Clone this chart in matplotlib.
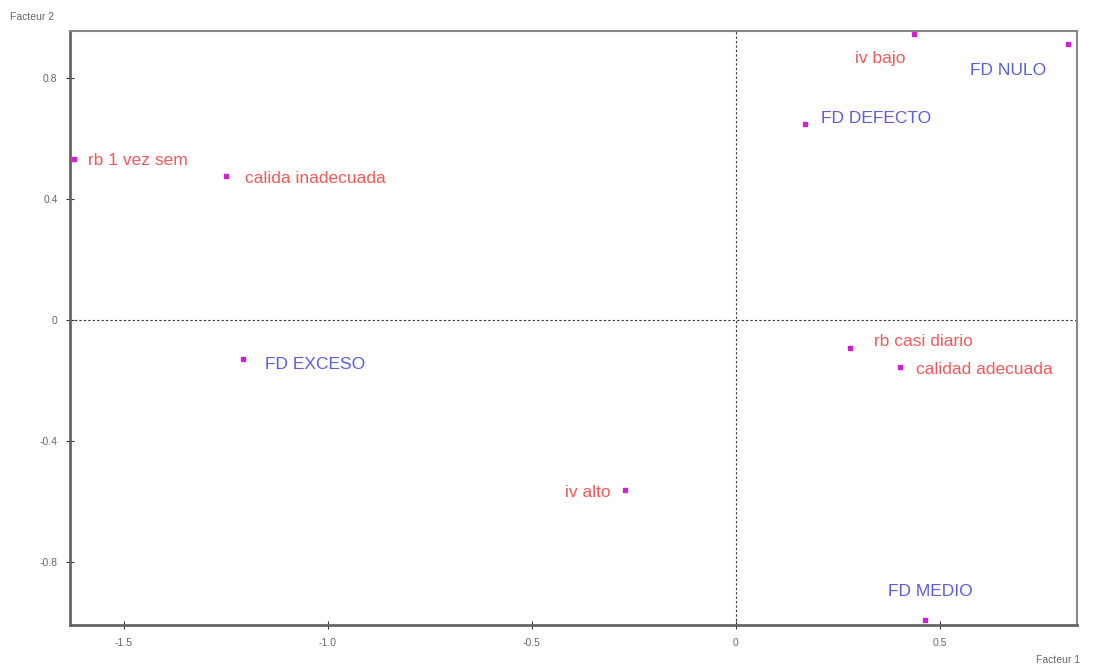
import matplotlib
matplotlib.use("Agg")
import matplotlib.pyplot as plt

plt.rcParams['font.family'] = ['Liberation Sans', 'DejaVu Sans']

# Factor coordinates of the modalities
labels = ["rb 1 vez sem", "calida inadecuada", "iv bajo", "FD NULO", "FD DEFECTO",
          "FD EXCESO", "rb casi diario", "calidad adecuada", "iv alto", "FD MEDIO"]
factor1 = [-1.623, -1.250, 0.436, 0.814, 0.169, -1.208, 0.279, 0.402, -0.272, 0.463]
factor2 = [0.532, 0.476, 0.945, 0.912, 0.648, -0.129, -0.093, -0.155, -0.562, -0.992]
groups = ["var", "var", "var", "fd", "fd", "fd", "var", "var", "var", "fd"]

x_ticks = [-1.5, -1.0, -0.5, 0, 0.5]
x_tick_labels = ["-1.5", "-1.0", "-0.5", "0", "0.5"]
y_ticks = [-0.8, -0.4, 0, 0.4, 0.8]
y_tick_labels = ["-0.8", "-0.4", "0", "0.4", "0.8"]

# label placement: offset in pixels and alignment
placement = {
    "rb 1 vez sem": (14, -2, "left", "center"),
    "calida inadecuada": (19, -3, "left", "center"),
    "iv bajo": (-8, -24, "right", "center"),
    "FD NULO": (-22, -26, "right", "center"),
    "FD DEFECTO": (16, 5, "left", "center"),
    "FD EXCESO": (22, -5, "left", "center"),
    "rb casi diario": (24, 7, "left", "center"),
    "calidad adecuada": (16, -3, "left", "center"),
    "iv alto": (-14, -2, "right", "center"),
    "FD MEDIO": (6, 29, "center", "center"),
}
colors = {"var": "#f05a5a", "fd": "#5c5ce0"}

fig = plt.figure(figsize=(11.04, 6.68), dpi=100)
ax = fig.add_axes([70 / 1104, 1 - 625 / 668, (1077 - 70) / 1104, (625 - 31) / 668])
ax.set_xlim(-1.632, 0.836)
ax.set_ylim(-1.008, 0.955)

ax.axhline(0, color="#333333", lw=0.8, ls=(0, (2, 2)), zorder=1)
ax.axvline(0, color="#333333", lw=0.8, ls=(0, (2, 2)), zorder=1)

ax.scatter(factor1, factor2, marker="s", s=9, color="#d020d0", zorder=3, clip_on=False)

for lab, x, y, g in zip(labels, factor1, factor2, groups):
    dx, dy, ha, va = placement[lab]
    ax.annotate(lab, (x, y), xytext=(dx, dy), textcoords="offset pixels",
                ha=ha, va=va, fontsize=12.5, color=colors[g], zorder=4)

ax.set_xticks(x_ticks)
ax.set_xticklabels(x_tick_labels)
ax.set_yticks(y_ticks)
ax.set_yticklabels(y_tick_labels)
ax.tick_params(direction="inout", length=6, width=0.8, labelsize=7.5,
               colors="#333333", labelcolor="#666666", pad=6)

for side in ["left", "bottom"]:
    ax.spines[side].set_color("#666666")
    ax.spines[side].set_linewidth(2)
for side in ["top", "right"]:
    ax.spines[side].set_color("#888888")
    ax.spines[side].set_linewidth(1.5)

fig.text(10 / 1104, 1 - 17 / 668, "Facteur 2", fontsize=7.5, color="#666666",
         ha="left", va="center")
fig.text(1080 / 1104, 1 - 660 / 668, "Facteur 1", fontsize=7.5, color="#666666",
         ha="right", va="center")

fig.savefig("out.png", dpi=100, facecolor="white")
